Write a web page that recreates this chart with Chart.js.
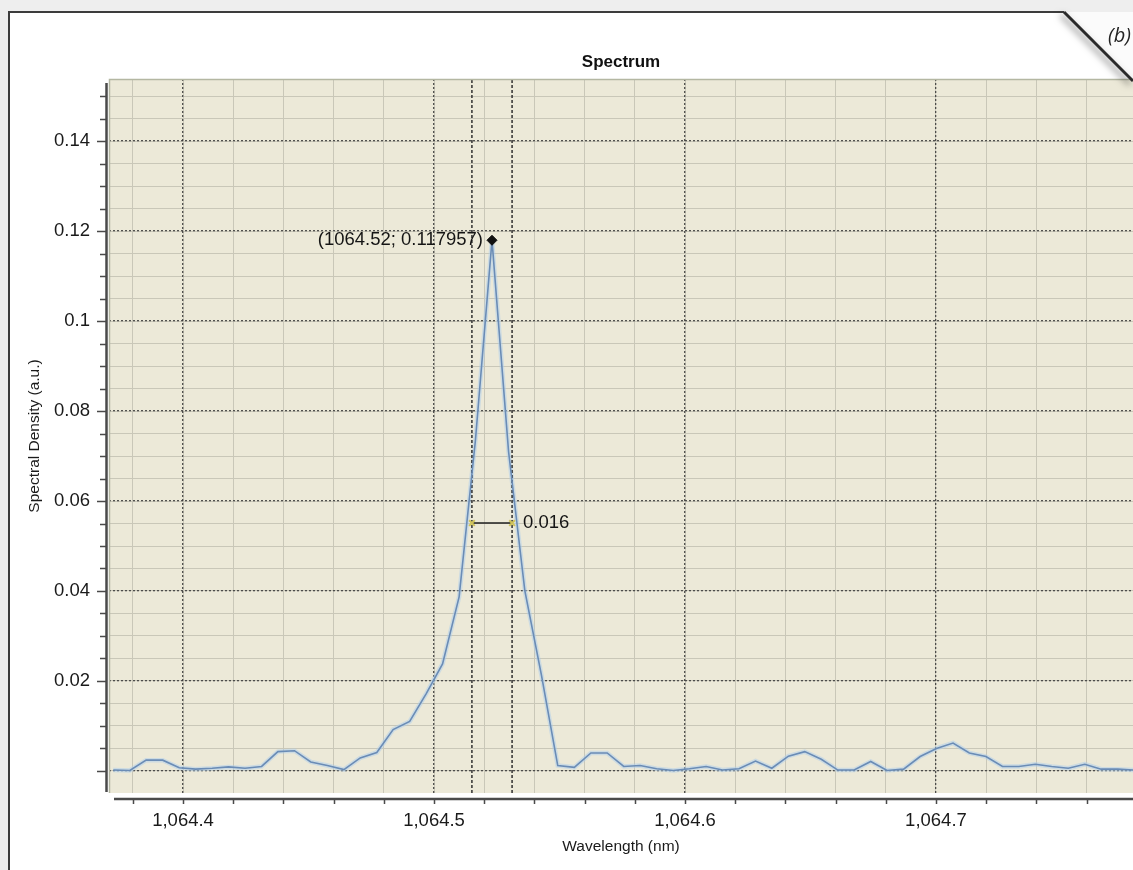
<!DOCTYPE html>
<html>
<head>
<meta charset="utf-8">
<title>Spectrum</title>
<script src="https://cdn.jsdelivr.net/npm/chart.js@4.4.1/dist/chart.umd.min.js"></script>
<style>
  html, body { margin: 0; padding: 0; background: #ffffff; }
  #wrap { width: 1133px; height: 870px; position: relative; }
  canvas { display: block; }
</style>
</head>
<body>
<div id="wrap"><canvas id="spectrum" width="1133" height="870"></canvas></div>
<script>
// Measured spectrum: wavelength (nm) and spectral density (a.u.)
const wavelengthNm = [
  1064.3722, 1064.3788, 1064.3853, 1064.3919, 1064.3985, 1064.4050, 1064.4116, 1064.4181, 1064.4247, 1064.4313,
  1064.4378, 1064.4444, 1064.4509, 1064.4575, 1064.4641, 1064.4706, 1064.4772, 1064.4837, 1064.4903, 1064.4969,
  1064.5034, 1064.5100, 1064.5165, 1064.5231, 1064.5297, 1064.5362, 1064.5428, 1064.5493, 1064.5559, 1064.5625,
  1064.5690, 1064.5756, 1064.5821, 1064.5887, 1064.5953, 1064.6018, 1064.6084, 1064.6149, 1064.6215, 1064.6281,
  1064.6346, 1064.6412, 1064.6477, 1064.6543, 1064.6609, 1064.6674, 1064.6740, 1064.6805, 1064.6871, 1064.6937,
  1064.7002, 1064.7068, 1064.7133, 1064.7199, 1064.7265, 1064.7330, 1064.7396, 1064.7461, 1064.7527, 1064.7593,
  1064.7658, 1064.7724, 1064.7789
];
const spectralDensity = [
  0.0002, 0.0001, 0.0024, 0.0024, 0.0007, 0.0004, 0.0006, 0.0009, 0.0006, 0.0010,
  0.0043, 0.0045, 0.0020, 0.0012, 0.0003, 0.0029, 0.0041, 0.0092, 0.0110, 0.0172,
  0.0238, 0.0387, 0.0735, 0.117957, 0.0710, 0.0400, 0.0213, 0.0012, 0.0008, 0.0040,
  0.0040, 0.0010, 0.0012, 0.0005, 0.0001, 0.0005, 0.0010, 0.0002, 0.0005, 0.0022,
  0.0006, 0.0033, 0.0043, 0.0026, 0.0002, 0.0002, 0.0021, 0.0001, 0.0004, 0.0032,
  0.0050, 0.0062, 0.0040, 0.0032, 0.0010, 0.0010, 0.0015, 0.0010, 0.0006, 0.0015,
  0.0004, 0.0004, 0.0002
];

// Full width at half maximum cursor pair and the level of its marker bar
const fwhmBounds = [1064.5151, 1064.5311];
const fwhmLevel = 0.0551;

// Axis ranges and tick spacing
const xRange = [1064.3705, 1064.7785];
const yRange = [-0.0049, 0.1538];
const xMajorStep = 0.1;
const xMinorStep = 0.02;
const yMajorStep = 0.02;
const yMinorStep = 0.005;

// Peak located from the data
const peakIndex = spectralDensity.indexOf(Math.max(...spectralDensity));
const peakWavelength = wavelengthNm[peakIndex];
const peakDensity = spectralDensity[peakIndex];
const peakLabel = '(' + peakWavelength.toFixed(2) + '; ' + peakDensity + ')';
const fwhmLabel = (fwhmBounds[1] - fwhmBounds[0]).toFixed(3);

const FONT = '"Liberation Sans", Arial, Helvetica, sans-serif';
const spectrumPoints = wavelengthNm.map((w, i) => ({ x: w, y: spectralDensity[i] }));

const isMultiple = (v, step) => Math.abs(v / step - Math.round(v / step)) < 1e-6;

// Page frame, folded corner and plot background
const pageFrame = {
  id: 'pageFrame',
  beforeDraw(chart) {
    const { ctx, width, height, chartArea: a } = chart;
    ctx.save();
    ctx.fillStyle = '#eeeeee';
    ctx.fillRect(0, 0, width, height);
    ctx.fillStyle = '#ffffff';
    ctx.beginPath();
    ctx.moveTo(9, 12);
    ctx.lineTo(1064, 12);
    ctx.lineTo(width, 12 + (width - 1064));
    ctx.lineTo(width, height);
    ctx.lineTo(9, height);
    ctx.closePath();
    ctx.fill();
    ctx.fillStyle = '#fbfbfb';
    ctx.beginPath();
    ctx.moveTo(1064, 12);
    ctx.lineTo(width, 12);
    ctx.lineTo(width, 12 + (width - 1064));
    ctx.closePath();
    ctx.fill();
    ctx.fillStyle = '#ece9d8';
    ctx.fillRect(a.left, a.top, a.right - a.left, a.bottom - a.top);
    ctx.restore();
  },
  afterDraw(chart) {
    const { ctx, width, height, chartArea: a } = chart;
    ctx.save();
    // plot edge
    ctx.strokeStyle = '#b4b7a2';
    ctx.lineWidth = 1.5;
    ctx.beginPath();
    ctx.moveTo(a.left + 0.5, a.bottom);
    ctx.lineTo(a.left + 0.5, a.top + 0.5);
    ctx.lineTo(a.right, a.top + 0.5);
    ctx.stroke();

    // frame
    ctx.strokeStyle = '#3c3c3c';
    ctx.lineWidth = 2;
    ctx.beginPath();
    ctx.moveTo(9, height);
    ctx.lineTo(9, 12);
    ctx.lineTo(1064, 12);
    ctx.stroke();

    // folded corner with its shadow
    ctx.save();
    ctx.shadowColor = 'rgba(0,0,0,0.55)';
    ctx.shadowBlur = 7;
    ctx.shadowOffsetX = -3;
    ctx.shadowOffsetY = 3;
    ctx.strokeStyle = '#2a2a2a';
    ctx.lineWidth = 3;
    ctx.beginPath();
    ctx.moveTo(1064, 12);
    ctx.lineTo(width, 12 + (width - 1064));
    ctx.stroke();
    ctx.restore();

    ctx.fillStyle = '#222222';
    ctx.font = 'italic 20px "Open Sans", "DejaVu Sans", sans-serif';
    ctx.textAlign = 'right';
    ctx.textBaseline = 'middle';
    ctx.fillText('(b)', width - 2, 36);

    // axis lines and tick marks
    const xs = chart.scales.x, ys = chart.scales.y;
    const xm = chart.scales.xMinor, ym = chart.scales.yMinor;
    ctx.strokeStyle = '#4a4a4a';
    ctx.lineWidth = 2.5;
    ctx.beginPath();
    ctx.moveTo(a.left - 2.5, a.top + 4);
    ctx.lineTo(a.left - 2.5, a.bottom - 1);
    ctx.moveTo(a.left + 5, a.bottom + 6);
    ctx.lineTo(a.right, a.bottom + 6);
    ctx.stroke();

    ctx.lineWidth = 1.5;
    ctx.beginPath();
    ym.ticks.forEach(t => {
      const py = Math.round(ys.getPixelForValue(t.value)) + 0.5;
      const len = isMultiple(t.value, yMajorStep) ? 12 : 9;
      ctx.moveTo(a.left - len, py);
      ctx.lineTo(a.left - 3, py);
    });
    xm.ticks.forEach(t => {
      const px = Math.round(xs.getPixelForValue(t.value)) + 0.5;
      ctx.moveTo(px, a.bottom + 6);
      ctx.lineTo(px, a.bottom + 11);
    });
    ctx.stroke();

    // annotations
    ctx.fillStyle = '#151515';
    ctx.font = '18.5px ' + FONT;
    ctx.textBaseline = 'middle';
    ctx.textAlign = 'right';
    ctx.fillText(peakLabel, xs.getPixelForValue(peakWavelength) - 9, ys.getPixelForValue(peakDensity));
    ctx.textAlign = 'left';
    ctx.fillText(fwhmLabel, xs.getPixelForValue(fwhmBounds[1]) + 11, ys.getPixelForValue(fwhmLevel));
    ctx.restore();
  }
};

const majorGrid = { color: 'rgba(55,55,55,0.85)', lineWidth: 1.3, drawTicks: false };
const minorGrid = { color: '#c9c7b8', lineWidth: 1, drawTicks: false, z: -2 };

new Chart(document.getElementById('spectrum'), {
  type: 'scatter',
  data: {
    datasets: [
      {
        label: 'Peak',
        data: [{ x: peakWavelength, y: peakDensity }],
        pointStyle: 'rectRot',
        pointRadius: 5,
        backgroundColor: '#111111',
        borderColor: '#111111',
        borderWidth: 1,
        order: 0
      },
      {
        label: 'FWHM',
        data: [{ x: fwhmBounds[0], y: fwhmLevel }, { x: fwhmBounds[1], y: fwhmLevel }],
        showLine: true,
        borderColor: '#1e1e1e',
        borderWidth: 1.5,
        pointStyle: 'crossRot',
        pointRadius: 4,
        pointBorderColor: '#cfc35a',
        pointBorderWidth: 2,
        order: 1
      },
      {
        label: 'Spectrum',
        data: spectrumPoints,
        showLine: true,
        borderColor: '#6a8cb6',
        borderWidth: 1.6,
        pointRadius: 0,
        order: 2
      },
      {
        label: 'Cursor left',
        data: [{ x: fwhmBounds[0], y: yRange[0] }, { x: fwhmBounds[0], y: yRange[1] }],
        showLine: true,
        borderColor: '#303030',
        borderWidth: 1.5,
        borderDash: [3, 2],
        pointRadius: 0,
        order: 3
      },
      {
        label: 'Cursor right',
        data: [{ x: fwhmBounds[1], y: yRange[0] }, { x: fwhmBounds[1], y: yRange[1] }],
        showLine: true,
        borderColor: '#303030',
        borderWidth: 1.5,
        borderDash: [3, 2],
        pointRadius: 0,
        order: 3
      },
      {
        label: 'Spectrum glow',
        data: spectrumPoints,
        showLine: true,
        borderColor: 'rgba(172,206,238,0.5)',
        borderWidth: 4.5,
        pointRadius: 0,
        order: 4
      }
    ]
  },
  options: {
    responsive: false,
    devicePixelRatio: 1,
    animation: false,
    events: [],
    layout: { padding: 0, autoPadding: false },
    plugins: {
      legend: { display: false },
      tooltip: { enabled: false },
      title: {
        display: true,
        text: 'Spectrum',
        fullSize: false,
        color: '#111111',
        font: { family: FONT, size: 17, weight: 'bold' },
        padding: { top: 51.8, bottom: 6.8 }
      }
    },
    scales: {
      x: {
        type: 'linear',
        axis: 'x',
        position: 'bottom',
        min: xRange[0],
        max: xRange[1],
        afterFit: s => { s.height = 77; },
        ticks: {
          stepSize: xMajorStep,
          includeBounds: false,
          autoSkip: false,
          maxRotation: 0,
          padding: 17.2,
          color: '#1a1a1a',
          font: { family: FONT, size: 18.5 },
          callback: v => Number(v).toLocaleString('en-US', { minimumFractionDigits: 1, maximumFractionDigits: 1 })
        },
        grid: majorGrid,
        border: { display: false, dash: [2, 2] },
        title: {
          display: true,
          text: 'Wavelength (nm)',
          color: '#1a1a1a',
          font: { family: FONT, size: 15.5 },
          padding: { top: 0, bottom: 14 }
        }
      },
      y: {
        type: 'linear',
        axis: 'y',
        position: 'left',
        min: yRange[0],
        max: yRange[1],
        afterFit: s => { s.width = 109; },
        ticks: {
          stepSize: yMajorStep,
          includeBounds: false,
          padding: 19,
          color: '#1a1a1a',
          font: { family: FONT, size: 18.5 },
          callback: v => (Math.abs(v) < 1e-9 ? '' : String(Number(Number(v).toFixed(3))))
        },
        grid: majorGrid,
        border: { display: false, dash: [2, 2] },
        title: {
          display: true,
          text: 'Spectral Density (a.u.)',
          color: '#1a1a1a',
          font: { family: FONT, size: 15.5 },
          padding: { top: 25.7, bottom: 0 }
        }
      },
      xMinor: {
        type: 'linear',
        axis: 'x',
        position: 'top',
        min: xRange[0],
        max: xRange[1],
        afterFit: s => { s.height = 0; },
        ticks: { display: false, stepSize: xMinorStep, includeBounds: false },
        grid: minorGrid,
        border: { display: false }
      },
      yMinor: {
        type: 'linear',
        axis: 'y',
        position: 'right',
        min: yRange[0],
        max: yRange[1],
        afterFit: s => { s.width = 0; },
        ticks: { display: false, stepSize: yMinorStep, includeBounds: false },
        grid: minorGrid,
        border: { display: false }
      }
    }
  },
  plugins: [pageFrame]
});
</script>
</body>
</html>
